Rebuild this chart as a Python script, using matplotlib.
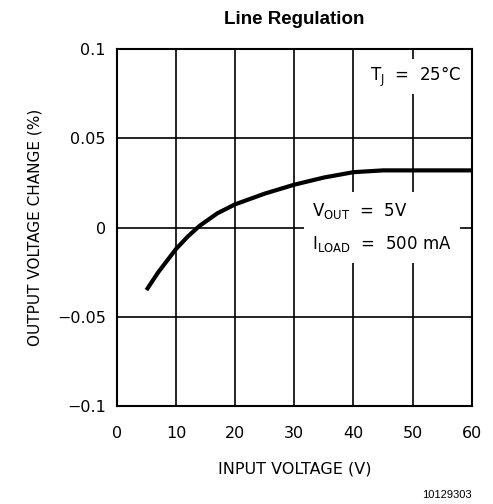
import matplotlib.pyplot as plt

# curve
vin = [5, 7, 10, 12, 14, 17, 20, 25, 30, 35, 40, 45, 50, 55, 60]
dvout = [-0.035, -0.025, -0.012, -0.005, 0.001, 0.008, 0.013, 0.019, 0.024, 0.028, 0.031, 0.032, 0.032, 0.032, 0.032]

xticks = [0, 10, 20, 30, 40, 50, 60]
yticks = [-0.1, -0.05, 0, 0.05, 0.1]
ylabels = ["\u22120.1", "\u22120.05", "0", "0.05", "0.1"]

plt.rcParams['font.family'] = ['DejaVu Sans']

fig = plt.figure(figsize=(4.93, 5.04), dpi=100)
ax = fig.add_axes([0.237, 0.194, 0.72, 0.709])

ax.plot(vin, dvout, color="black", lw=3, solid_capstyle="butt", zorder=3)

ax.set_xlim(0, 60)
ax.set_ylim(-0.1, 0.1)
ax.set_xticks(xticks)
ax.set_yticks(yticks)
ax.set_yticklabels(ylabels)
ax.tick_params(length=0, labelsize=11.5)
ax.tick_params(axis="x", pad=14)
ax.tick_params(axis="y", pad=8)
ax.grid(True, color="black", lw=1.2)
for s in ax.spines.values():
    s.set_linewidth(1.5)

ax.set_xlabel("INPUT VOLTAGE (V)", fontsize=11.5, labelpad=15)
ax.set_ylabel("OUTPUT VOLTAGE CHANGE (%)", fontsize=11, labelpad=10)
ax.set_title("Line Regulation", fontsize=13.5, fontweight="bold", family="Liberation Sans", pad=18)

ax.text(58.3, 0.0845, "T$_\\mathregular{J}$  =  25\u00b0C", fontsize=12, ha="right", va="center",
        bbox=dict(facecolor="white", edgecolor="none", pad=4), zorder=4)
ax.text(33, 0.0, "V$_\\mathregular{OUT}$  =  5V\nI$_\\mathregular{LOAD}$  =  500 mA",
        fontsize=12, ha="left", va="center", linespacing=1.9,
        bbox=dict(facecolor="white", edgecolor="none", pad=6), zorder=4)

fig.text(0.957, 0.012, "10129303", fontsize=8, ha="right", family="Liberation Sans")

plt.savefig("out.png")
